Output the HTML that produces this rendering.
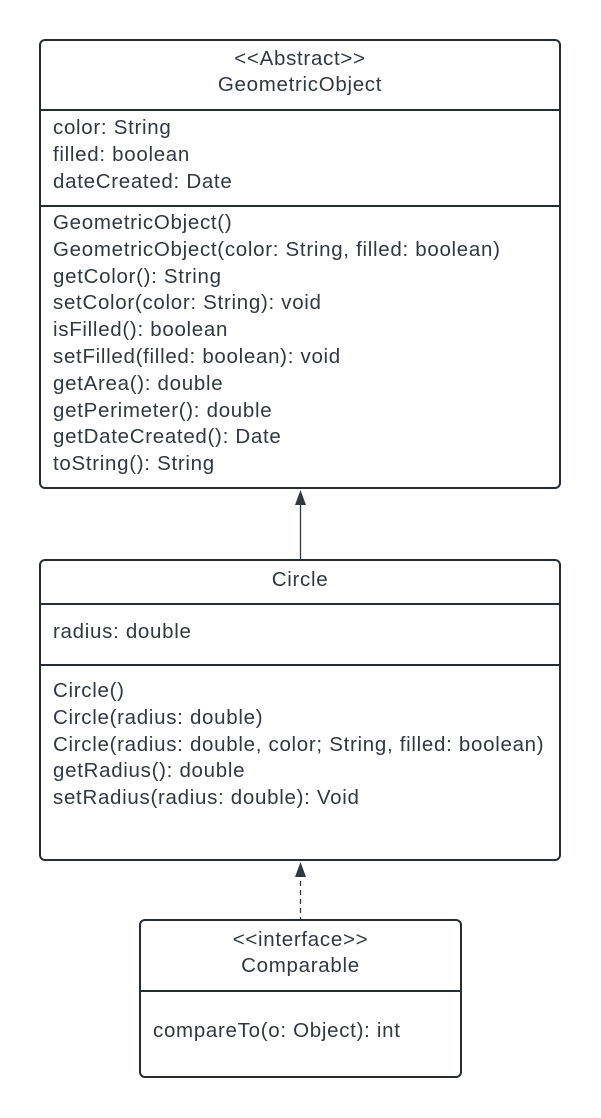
<!DOCTYPE html>
<html><head><style>
body{margin:0;width:601px;height:1118px;background:#fff;position:relative;font-family:"Liberation Sans",sans-serif;color:#333840;font-size:20.5px;letter-spacing:0.7px}
.b{position:absolute;border:2px solid #282c33;border-radius:6px;box-sizing:border-box;background:#fff}
.d{position:absolute;left:0;right:0;border-top:2px solid #282c33}
.t{position:absolute;white-space:pre;line-height:26.8px}
.c{position:absolute;left:0;right:0;text-align:center;line-height:26px}
</style></head><body>
<div class="b" style="left:39px;top:39px;width:522px;height:450px">
 <div class="c" style="top:5px">&lt;&lt;Abstract&gt;&gt;<br>GeometricObject</div>
 <div class="d" style="top:68px"></div>
 <div class="t" style="left:12px;top:74px">color: String
filled: boolean
dateCreated: Date</div>
 <div class="d" style="top:164px"></div>
 <div class="t" style="left:12px;top:169px">GeometricObject()
GeometricObject(color: String, filled: boolean)
getColor(): String
setColor(color: String): void
isFilled(): boolean
setFilled(filled: boolean): void
getArea(): double
getPerimeter(): double
getDateCreated(): Date
toString(): String</div>
</div>
<div class="b" style="left:39px;top:559px;width:522px;height:302px">
 <div class="c" style="top:6px">Circle</div>
 <div class="d" style="top:42px"></div>
 <div class="t" style="left:12px;top:58px">radius: double</div>
 <div class="d" style="top:103px"></div>
 <div class="t" style="left:12px;top:117px">Circle()
Circle(radius: double)
Circle(radius: double, color; String, filled: boolean)
getRadius(): double
setRadius(radius: double): Void</div>
</div>
<div class="b" style="left:139px;top:919px;width:323px;height:159px">
 <div class="c" style="top:6px">&lt;&lt;interface&gt;&gt;<br>Comparable</div>
 <div class="d" style="top:69px"></div>
 <div class="t" style="left:12px;top:97px">compareTo(o: Object): int</div>
</div>
<svg width="601" height="1118" style="position:absolute;left:0;top:0">
 <line x1="300.5" y1="500" x2="300.5" y2="559" stroke="#333840" stroke-width="1.3"/>
 <polygon points="300.5,490 295,505 306,505" fill="#333840"/>
 <line x1="300.5" y1="872" x2="300.5" y2="919" stroke="#333840" stroke-width="1.3" stroke-dasharray="5,4"/>
 <polygon points="300.5,862 295,877 306,877" fill="#333840"/>
</svg>
</body></html>
